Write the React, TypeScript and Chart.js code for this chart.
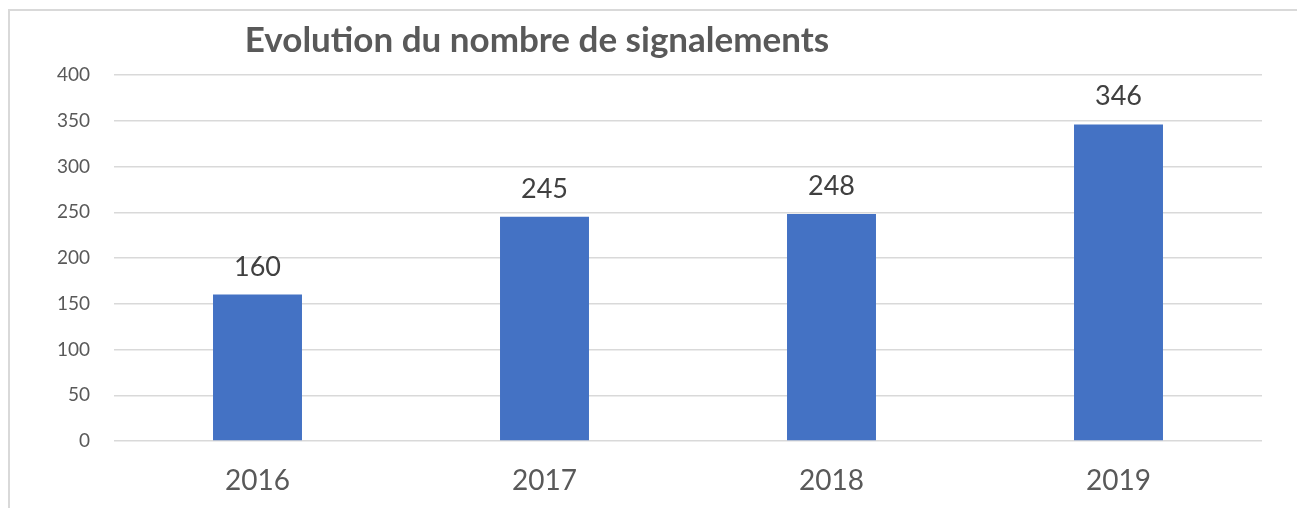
import React, { useEffect, useRef } from "react";
import { Chart, registerables } from "chart.js";

Chart.register(...registerables);

const categories = ["2016", "2017", "2018", "2019"];
const values = [160, 245, 248, 346];
const yTicks = [0, 50, 100, 150, 200, 250, 300, 350, 400];
const titleText = "Evolution du nombre de signalements";

const FONT = "Lato, 'Liberation Sans', sans-serif";

const framePlugin = {
  id: "frame",
  beforeDraw(chart: any) {
    const ctx = chart.ctx;
    ctx.save();
    ctx.fillStyle = "#ffffff";
    ctx.fillRect(0, 0, chart.width, chart.height);
    ctx.strokeStyle = "#d9d9d9";
    ctx.lineWidth = 2;
    ctx.beginPath();
    ctx.moveTo(9, chart.height);
    ctx.lineTo(9, 10);
    ctx.lineTo(chart.width, 10);
    ctx.stroke();
    ctx.restore();
  },
};

const titlePlugin = {
  id: "customTitle",
  afterDraw(chart: any) {
    const ctx = chart.ctx;
    ctx.save();
    ctx.font = `bold 35px ${FONT}`;
    ctx.fillStyle = "#595959";
    ctx.textAlign = "center";
    ctx.textBaseline = "alphabetic";
    ctx.fillText(titleText, 537, 52);
    ctx.restore();
  },
};

const labelPlugin = {
  id: "valueLabels",
  afterDatasetsDraw(chart: any) {
    const ctx = chart.ctx;
    const meta = chart.getDatasetMeta(0);
    ctx.save();
    ctx.font = `27px ${FONT}`;
    ctx.fillStyle = "#404040";
    ctx.textAlign = "center";
    ctx.textBaseline = "alphabetic";
    meta.data.forEach((bar: any, i: number) => {
      ctx.fillText(String(values[i]), bar.x, bar.y - 19);
    });
    ctx.restore();
  },
};

export default function App() {
  const ref = useRef<HTMLCanvasElement | null>(null);
  useEffect(() => {
    if (!ref.current) return;
    const chart = new Chart(ref.current, {
      type: "bar",
      data: {
        labels: categories,
        datasets: [
          {
            data: values,
            backgroundColor: "#4472C4",
            borderWidth: 0,
            categoryPercentage: 1,
            barPercentage: 0.31,
          },
        ],
      },
      options: {
        animation: false,
        responsive: false,
        maintainAspectRatio: false,
        layout: { padding: { left: 0, top: 75, right: 35, bottom: 0 } },
        plugins: {
          legend: { display: false },
          title: { display: false },
          tooltip: { enabled: false },
        },
        scales: {
          x: {
            grid: { display: false, drawTicks: false },
            border: { display: false },
            ticks: {
              color: "#595959",
              font: { family: FONT, size: 28 },
              padding: 23,
            },
            afterFit(scale: any) {
              scale.height = 67;
            },
          },
          y: {
            min: 0,
            max: 400,
            afterBuildTicks(scale: any) {
              scale.ticks = yTicks.map((v) => ({ value: v }));
            },
            grid: { color: "#d9d9d9", lineWidth: 1.5, drawTicks: false },
            border: { display: false },
            ticks: {
              color: "#595959",
              font: { family: FONT, size: 19 },
              padding: 24,
            },
            afterFit(scale: any) {
              scale.width = 114;
            },
          },
        },
      },
      plugins: [framePlugin, titlePlugin, labelPlugin],
    });
    return () => chart.destroy();
  }, []);
  return (
    <div style={{ position: "fixed", left: 0, top: 0, width: 1297, height: 508 }}>
      <canvas ref={ref} width={1297} height={508} style={{ display: "block" }} />
    </div>
  );
}
